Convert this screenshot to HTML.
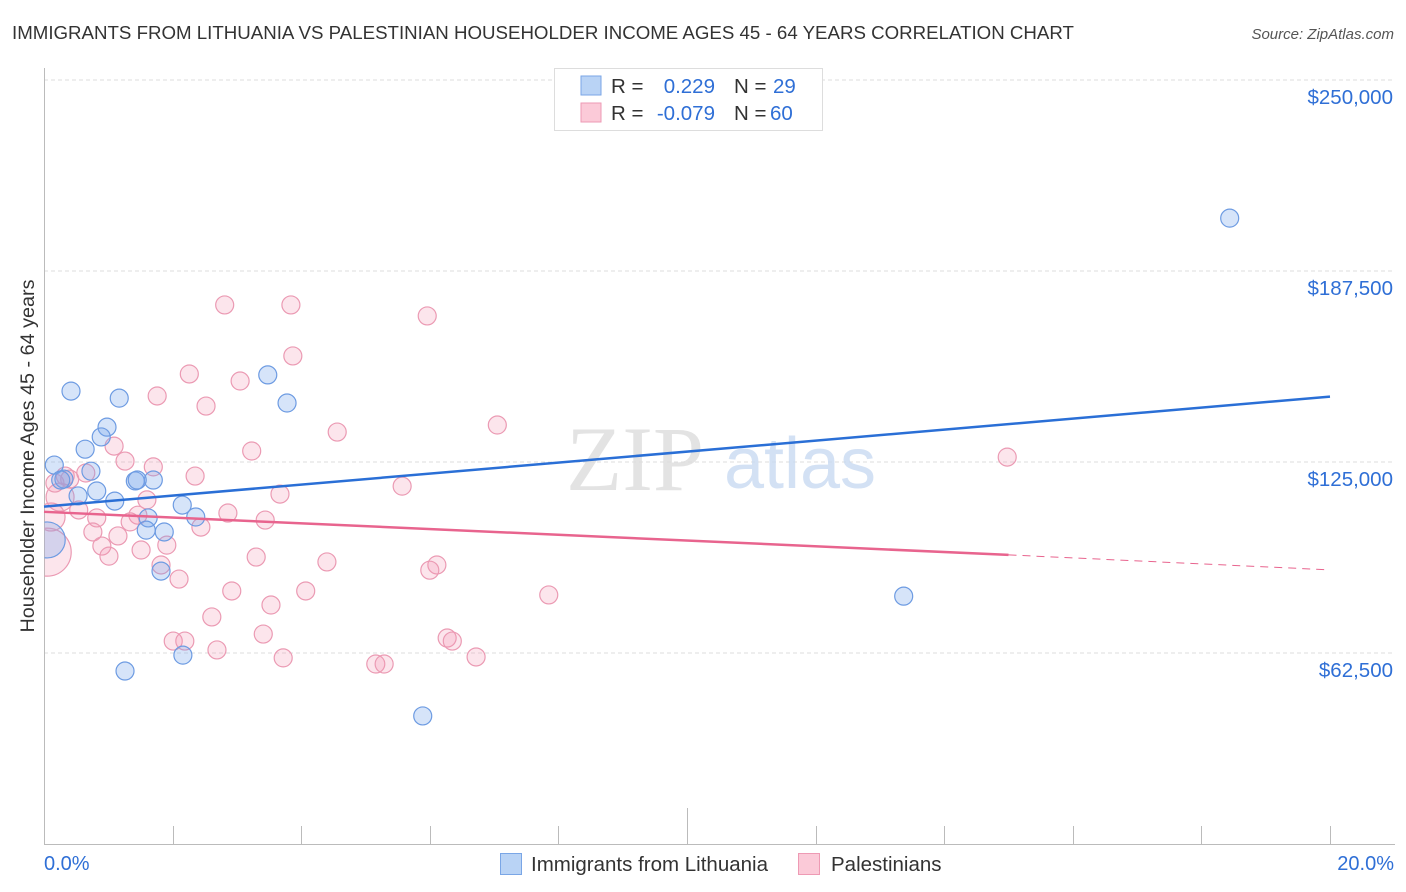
<!DOCTYPE html>
<html><head><meta charset="utf-8"><style>
body{margin:0;background:#fff;font-family:"Liberation Sans",sans-serif;}
svg{display:block}
</style></head><body>
<svg width="1406" height="892" viewBox="0 0 1406 892">
<defs><clipPath id="plotclip"><rect x="44.500" y="60" width="1360" height="785"/></clipPath></defs>
<text x="12" y="39" font-size="18.7" fill="#333">IMMIGRANTS FROM LITHUANIA VS PALESTINIAN HOUSEHOLDER INCOME AGES 45 - 64 YEARS CORRELATION CHART</text>
<text x="1394" y="39" font-size="15" fill="#555" font-style="italic" text-anchor="end">Source: ZipAtlas.com</text>
<g id="grid"></g>
<g>
<text x="635" y="490" font-size="92" fill="#ddd" font-family="Liberation Serif" text-anchor="middle" opacity="0.8">ZIP</text>
<text x="800" y="488" font-size="72" fill="#c9daf2" text-anchor="middle" opacity="0.8">atlas</text>
</g>
<g id="axes"></g>
<g id="pts" clip-path="url(#plotclip)"></g>
<g id="trend"></g>
<g>
<rect x="554.500" y="68.500" width="268" height="62" fill="#fff" stroke="#ddd"/>
<rect x="581" y="76" width="20" height="19" fill="#b9d3f5" stroke="#7aa6e6"/>
<rect x="581" y="103" width="20" height="19" fill="#fbcad8" stroke="#ee9ab4"/>
<g font-size="20.5">
<text x="611" y="93" fill="#333">R =</text>
<text x="715" y="93" fill="#2f6fd6" text-anchor="end">0.229</text>
<text x="734" y="93" fill="#333">N =</text>
<text x="773" y="93" fill="#2f6fd6">29</text>
<text x="611" y="120" fill="#333">R =</text>
<text x="715" y="120" fill="#2f6fd6" text-anchor="end">-0.079</text>
<text x="734" y="120" fill="#333">N =</text>
<text x="770" y="120" fill="#2f6fd6">60</text>
</g>
</g>
<g>
<rect x="500.500" y="853.500" width="21" height="21" fill="#b9d3f5" stroke="#7aa6e6"/>
<text x="531" y="871" font-size="20.5" fill="#333">Immigrants from Lithuania</text>
<rect x="798.500" y="853.500" width="21" height="21" fill="#fbcad8" stroke="#ee9ab4"/>
<text x="831" y="871" font-size="20.5" fill="#333">Palestinians</text>
</g>
</svg>
<script>
const yTicks=[62500,125000,187500,250000];
const yTickLabels=["$62,500","$125,000","$187,500","$250,000"];
const xTicks=[0,2,4,6,8,10,12,14,16,18,20];
const xEndLabels=["0.0%","20.0%"];
const blueX=[18.44,0.42,1.17,3.48,3.78,0.98,0.89,0.64,0.16,0.73,0.31,0.26,1.42,1.70,1.45,0.53,0.82,1.10,2.15,1.62,2.36,1.59,1.87,1.82,2.16,1.26,5.89,13.37,0.05];
const blueY=[204.8,148.2,145.9,153.5,144.3,136.4,133.2,129.2,124.0,122.0,119.4,119.1,118.8,119.1,119.1,113.9,115.5,112.2,110.9,106.7,107.0,102.7,102.1,89.3,61.8,56.6,41.9,81.1,99.5];
const pinkX=[2.81,3.84,5.96,3.87,2.26,3.05,1.76,2.52,7.05,4.56,3.23,14.98,1.09,1.26,1.70,2.35,0.65,0.33,0.40,5.57,3.67,0.25,1.60,0.54,1.46,2.86,3.44,0.82,2.44,1.34,0.11,0.76,1.15,1.91,0.90,1.51,1.01,0.05,3.30,4.40,6.11,6.00,1.82,2.10,2.92,4.07,7.85,3.53,2.61,3.41,2.01,2.19,6.27,6.35,2.69,3.72,5.16,5.29,6.72,0.17];
const pinkY=[176.4,176.4,172.8,159.7,153.8,151.5,146.6,143.3,137.1,134.8,128.6,126.6,130.2,125.3,123.4,120.4,121.4,120.4,119.4,117.1,114.5,113.5,112.6,109.3,107.6,108.3,106.0,106.7,103.7,105.4,107.0,102.1,100.8,97.8,97.5,96.2,94.2,95.5,93.9,92.3,91.3,89.6,91.3,86.7,82.8,82.8,81.5,78.2,74.3,68.7,66.4,66.4,67.4,66.4,63.5,60.9,58.9,58.9,61.2,118.1];
const blueTrend=[[0,110.4],[20,146.4]];
const pinkTrend=[[0,108.7],[15,94.6],[20,89.7]];
const NS="http://www.w3.org/2000/svg";
const X=p=>44+p*(1330-44)/20;
const Y=k=>844-k*1000*191/62500;
function mk(tag,attrs,parent){const e=document.createElementNS(NS,tag);for(const k in attrs)e.setAttribute(k,attrs[k]);parent.appendChild(e);return e;}
const grid=document.getElementById('grid'),axes=document.getElementById('axes'),pts=document.getElementById('pts'),tr=document.getElementById('trend');
yTicks.forEach((v,i)=>{const y=Y(v/1000);
const l=mk('line',{x1:44,x2:1395,y1:y,y2:y,stroke:'#ddd','stroke-dasharray':'4,3'},grid);


const t=mk('text',{x:1393,y:y+24,'font-size':20.5,fill:'#2f6fd6','text-anchor':'end'},axes);t.textContent=yTickLabels[i];

});
const ax=mk('line',{x1:44,x2:1395,y1:844.5,y2:844.5,stroke:'#bbb'},axes);


const ay=mk('line',{x1:44.5,x2:44.5,y1:68,y2:845,stroke:'#bbb'},axes);


xTicks.forEach(p=>{const x=Math.round(X(p))+0.5;const tk=mk('line',{x1:x,x2:x,y1:p===10?808:826,y2:845,stroke:'#bbb'},axes);

});
const xl0=mk('text',{x:44,y:870,'font-size':20,fill:'#2f6fd6'},axes);xl0.textContent=xEndLabels[0];


const xl1=mk('text',{x:1394,y:870,'font-size':20,fill:'#2f6fd6','text-anchor':'end'},axes);xl1.textContent=xEndLabels[1];


const yt=mk('text',{x:0,y:0,'font-size':19.8,fill:'#333','text-anchor':'middle',transform:'translate(34,456) rotate(-90)'},axes);yt.textContent='Householder Income Ages 45 - 64 years';


pinkX.forEach((p,i)=>{const r=i===37?24:(i===21||i===30)?14:9;
const c=mk('circle',{cx:X(p),cy:Y(pinkY[i]),r:r,fill:'rgba(242,150,178,0.25)',stroke:'#eb9ab3','stroke-width':1.2},pts);

});
blueX.forEach((p,i)=>{const r=i===28?18:9;
const c=mk('circle',{cx:X(p),cy:Y(blueY[i]),r:r,fill:'rgba(120,165,235,0.3)',stroke:'#6d9be2','stroke-width':1.2},pts);

});
const bl=mk('line',{x1:X(blueTrend[0][0]),y1:Y(blueTrend[0][1]),x2:X(blueTrend[1][0]),y2:Y(blueTrend[1][1]),stroke:'#2a6fd6','stroke-width':2.5},tr);


const pl=mk('line',{x1:X(pinkTrend[0][0]),y1:Y(pinkTrend[0][1]),x2:X(pinkTrend[1][0]),y2:Y(pinkTrend[1][1]),stroke:'#e8648e','stroke-width':2.5},tr);


const pd=mk('line',{x1:X(pinkTrend[1][0]),y1:Y(pinkTrend[1][1]),x2:X(pinkTrend[2][0]),y2:Y(pinkTrend[2][1]),stroke:'#e8648e','stroke-width':1,'stroke-dasharray':'8,6'},tr);


</script>
</body></html>
